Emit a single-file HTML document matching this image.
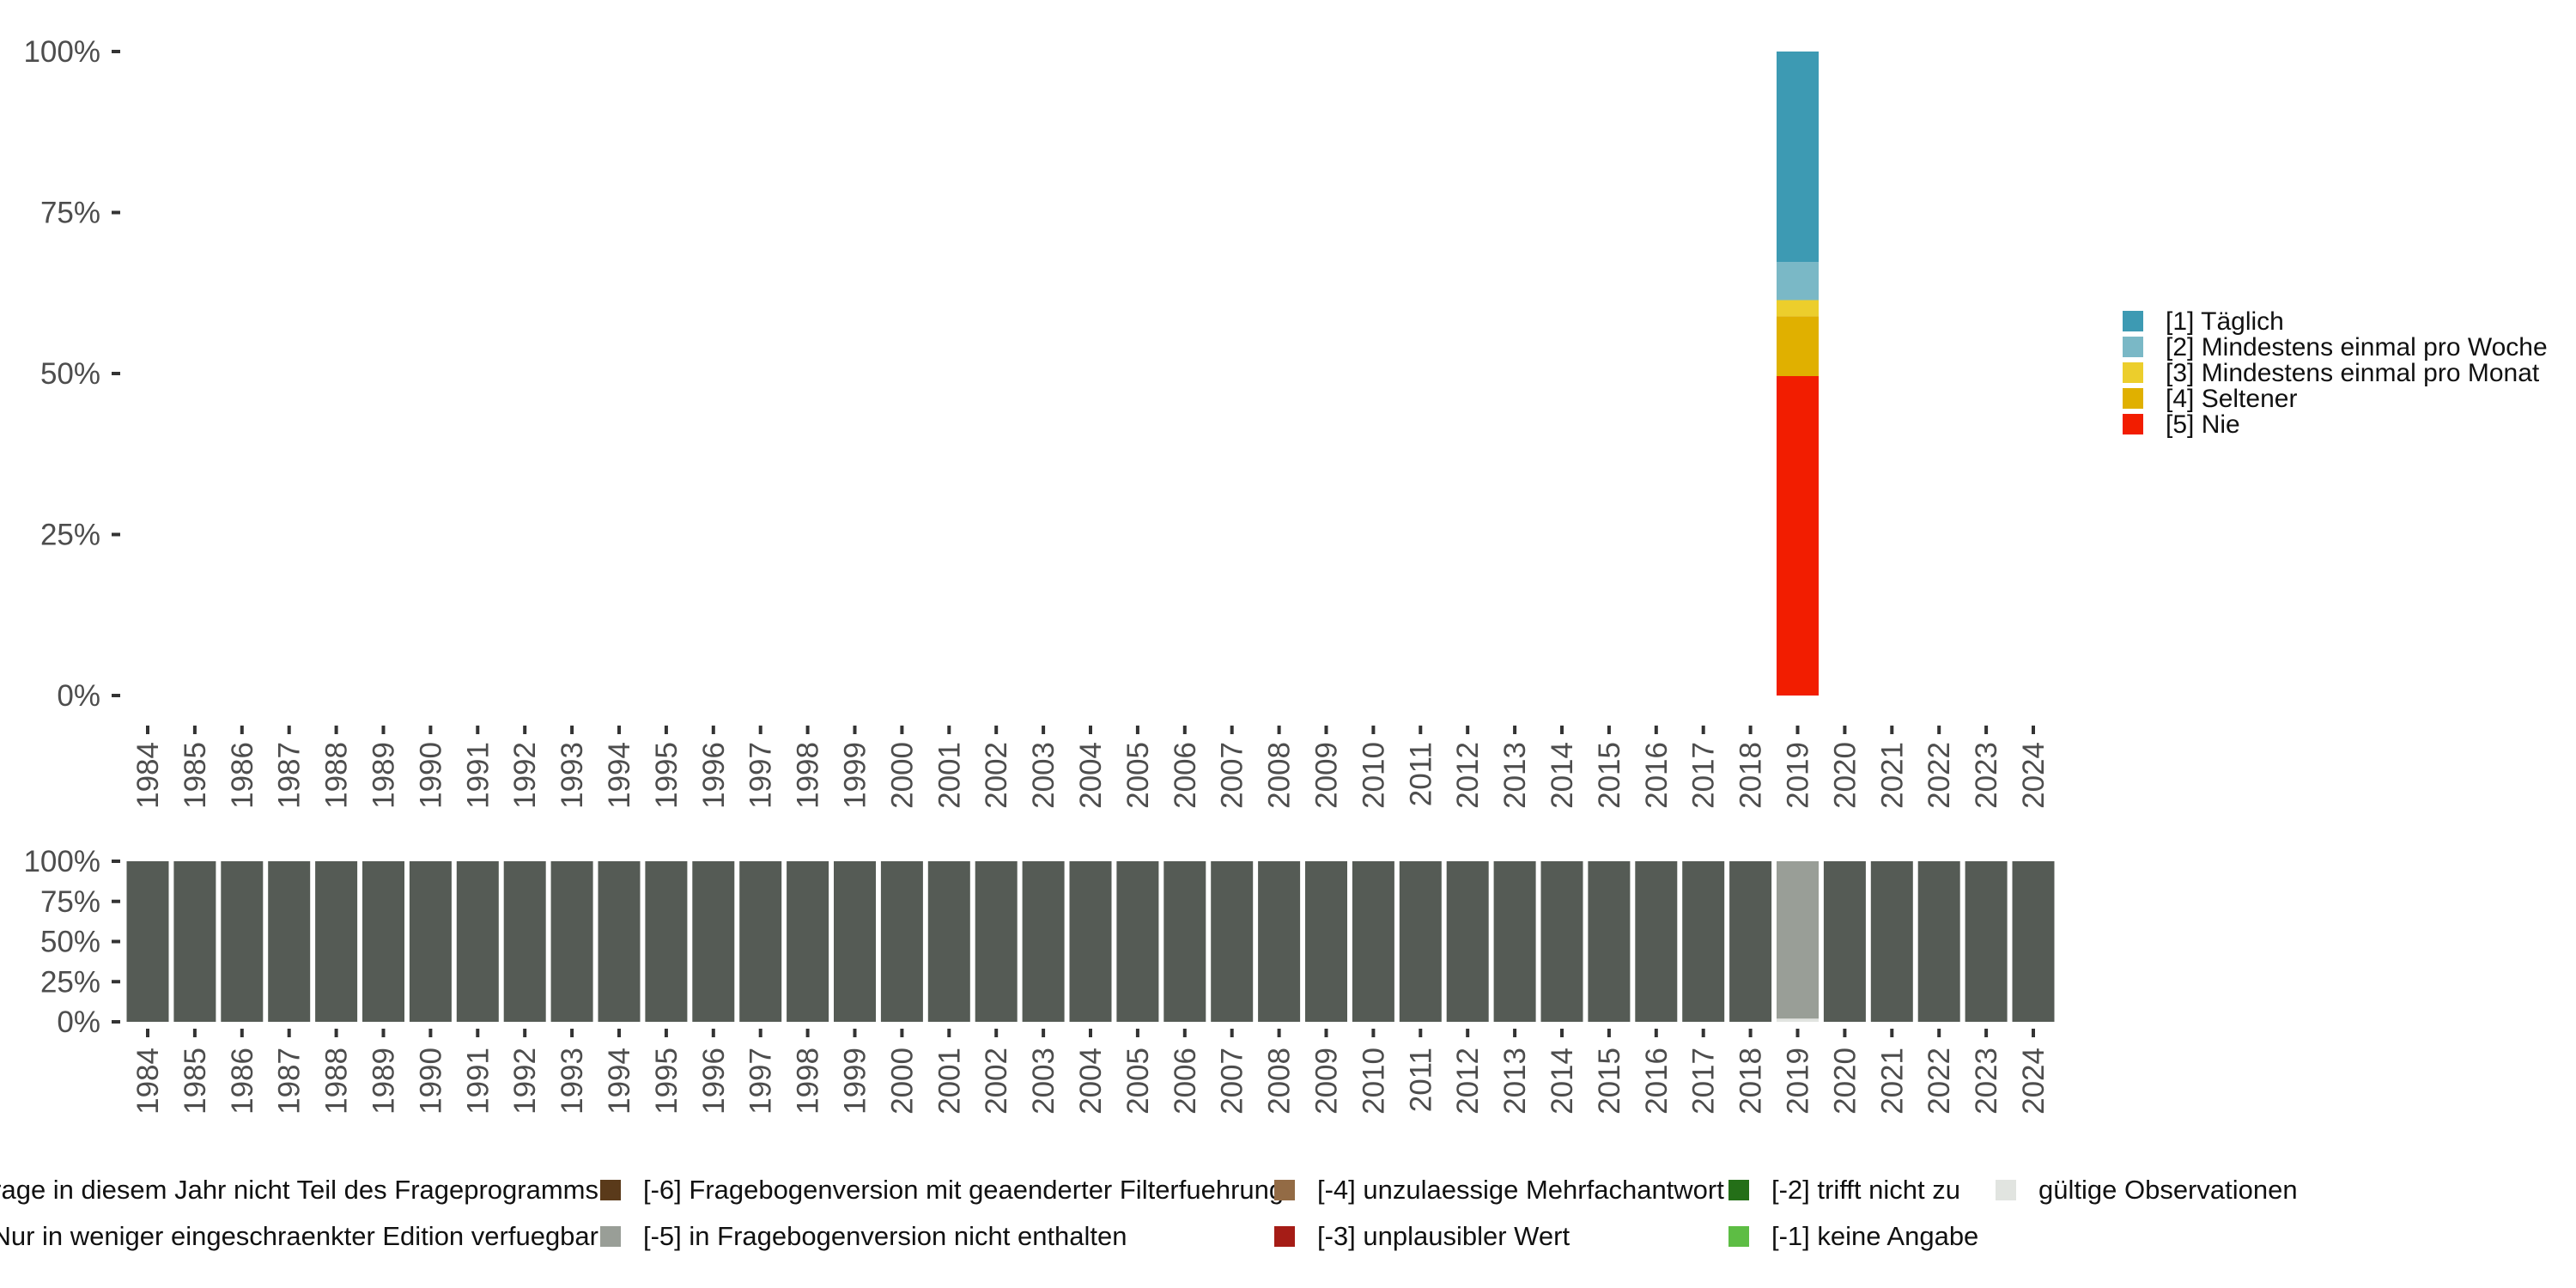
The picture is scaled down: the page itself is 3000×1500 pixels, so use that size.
<!DOCTYPE html>
<html><head><meta charset="utf-8"><style>
html,body{margin:0;padding:0;background:#fff;}
svg{display:block;font-family:"Liberation Sans",sans-serif;}
</style></head><body>
<svg id="chart" width="3000" height="1500" viewBox="0 0 3000 1500"></svg>
<script>
const years = [];
for (let y = 1984; y <= 2024; y++) years.push(y);
const topYear = 2019;
const topCategories = ["[1] Täglich","[2] Mindestens einmal pro Woche","[3] Mindestens einmal pro Monat","[4] Seltener","[5] Nie"];
const topColors = ["#3d9ab3","#7ab8c6","#ecce2c","#e0b000","#f21d00"];
const topValues = [32.7, 5.9, 2.5, 9.3, 49.6];
const yTicks = [0, 25, 50, 75, 100];
const yTickLabels = ["0%","25%","50%","75%","100%"];
const botCategories = ["[-8] Frage in diesem Jahr nicht Teil des Frageprogramms","[-7] Nur in weniger eingeschraenkter Edition verfuegbar","[-6] Fragebogenversion mit geaenderter Filterfuehrung","[-5] in Fragebogenversion nicht enthalten","[-4] unzulaessige Mehrfachantwort","[-3] unplausibler Wert","[-2] trifft nicht zu","[-1] keine Angabe","gültige Observationen"];
const botColors = ["#555b55","#7d8a7d","#5a3a1a","#999e97","#936b45","#a51c16","#246f18","#5dbd44","#e1e4e0"];
const botMissing8 = years.map(y => y === 2019 ? 0 : 100);
const botMissing5 = years.map(y => y === 2019 ? 98 : 0);
const botValid = years.map(y => y === 2019 ? 2 : 0);

const NS = "http://www.w3.org/2000/svg";
const svg = document.getElementById("chart");
function mk(tag, attrs, parent) {
  const e = document.createElementNS(NS, tag);
  for (const k in attrs) e.setAttribute(k, attrs[k]);
  (parent || svg).appendChild(e);
  return e;
}
const x = yr => 172 + (yr - 1984) * 54.9;
const barW = 49;
const yTop = v => 810 - v / 100 * 750;
const yBot = v => 1190 - v / 100 * 187;

function axes(yf, tickY0, labelY, name) {
  const g = mk("g", {});
  
  
  yTicks.forEach((t, i) => {
    const yy = yf(t);
    const tk = mk("line", {x1:130, x2:140, y1:yy, y2:yy, stroke:"#333", "stroke-width":4}, g);
    
    
    const tx = mk("text", {x:117, y:yy + 12, "text-anchor":"end", "font-size":35, fill:"#4d4d4d"}, g);
    tx.textContent = yTickLabels[i];
    
    
  });
  years.forEach(yr => {
    const xx = x(yr);
    const tk = mk("line", {x1:xx, x2:xx, y1:tickY0, y2:tickY0 + 10, stroke:"#333", "stroke-width":4}, g);
    
    
    const tx = mk("text", {x:0, y:0, "text-anchor":"end", "font-size":35, fill:"#4d4d4d",
      transform:`translate(${xx + 12},${labelY}) rotate(-90)`}, g);
    tx.textContent = yr;
    
    
  });
}
axes(yTop, 845, 864, "top");
axes(yBot, 1198, 1220, "bottom");

let acc = 0;
for (let i = topValues.length - 1; i >= 0; i--) {
  const r = mk("rect", {x:x(topYear) - barW/2, y:yTop(acc + topValues[i]), width:barW, height:yTop(acc) - yTop(acc + topValues[i]), fill:topColors[i]});
  
  
  acc += topValues[i];
}
topCategories.forEach((c, i) => {
  const yy = 362 + i * 30;
  const r = mk("rect", {x:2472, y:yy, width:24, height:24, fill:topColors[i]});
  
  
  const t = mk("text", {x:2522, y:yy + 22, "font-size":30, fill:"#111"});
  t.textContent = c;
  
  
});

years.forEach((yr, i) => {
  const segs = [[botValid[i], 8], [botMissing5[i], 3], [botMissing8[i], 0]];
  let a = 0;
  segs.forEach(([v, ci]) => {
    if (v <= 0) return;
    const r = mk("rect", {x:x(yr) - barW/2, y:yBot(a + v), width:barW, height:yBot(a) - yBot(a + v), fill:botColors[ci]});
    
    
    a += v;
  });
});

const colKeyX = [-40, 699, 1484, 2013, 2324];
botCategories.forEach((c, i) => {
  const col = Math.floor(i / 2), row = i % 2;
  const yy = 1374 + row * 54;
  const kx = colKeyX[col];
  const r = mk("rect", {x:kx, y:yy, width:24, height:24, fill:botColors[i]});
  
  
  const attrs = col === 0 ? {x:697, y:yy + 22, "text-anchor":"end", "font-size":31, fill:"#111"}
                          : {x:kx + 50, y:yy + 22, "font-size":31, fill:"#111"};
  const t = mk("text", attrs);
  t.textContent = c;
  
  
});
</script>
</body></html>
